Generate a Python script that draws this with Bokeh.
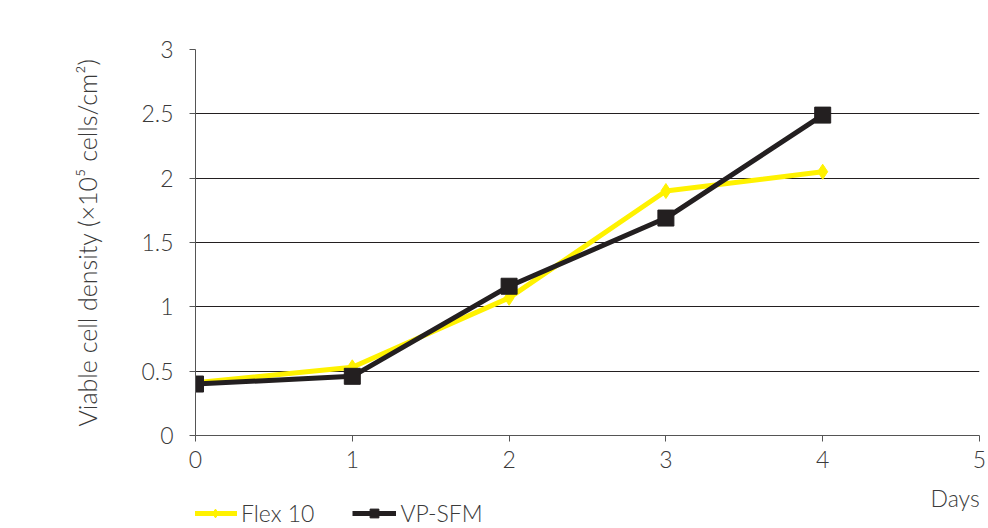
from bokeh.plotting import figure
from bokeh.layouts import column
from bokeh.models import Range1d, FixedTicker, Legend, LegendItem, Label
from bokeh.embed import file_html
from bokeh.resources import INLINE

days = [0, 1, 2, 3, 4]
flex10 = [0.41, 0.53, 1.07, 1.90, 2.05]
vpsfm = [0.40, 0.46, 1.16, 1.69, 2.49]
x_ticks = [0, 1, 2, 3, 4, 5]
y_ticks = [0, 0.5, 1, 1.5, 2, 2.5, 3]
y_tick_labels = {0: "0", 0.5: "0.5", 1: "1", 1.5: "1.5", 2: "2", 2.5: "2.5", 3: "3"}
series_names = ["Flex 10", "VP-SFM"]

FONT = "Lato Light, Lato"
TXT = "#3a3a3a"
INK = "#231f20"
YEL = "#fff200"

# main chart
p = figure(width=988, height=480, output_backend="svg", toolbar_location=None,
           x_range=Range1d(0, 5), y_range=Range1d(0, 3),
           min_border_left=195, min_border_right=9, min_border_top=49, min_border_bottom=45)
p.outline_line_color = None
p.background_fill_color = "white"
p.border_fill_color = "white"

p.xgrid.grid_line_color = None
p.ygrid.grid_line_color = INK
p.ygrid.grid_line_width = 1
p.ygrid.ticker = FixedTicker(ticks=y_ticks)

for ax in (p.xaxis[0], p.yaxis[0]):
    ax.axis_line_color = "#555555"
    ax.axis_line_width = 1
    ax.major_tick_line_color = "#555555"
    ax.major_tick_in = 0
    ax.major_tick_out = 6
    ax.minor_tick_line_color = None
    ax.major_label_text_font = FONT
    ax.major_label_text_font_size = "23px"
    ax.major_label_text_color = TXT

p.xaxis.ticker = FixedTicker(ticks=x_ticks)
p.yaxis.ticker = FixedTicker(ticks=y_ticks)
p.yaxis.major_label_overrides = y_tick_labels
p.xaxis.major_label_standoff = 9
p.yaxis.major_label_standoff = 16

p.yaxis.axis_label = "Viable cell density (×10⁵ cells/cm²)"
p.yaxis.axis_label_text_font = FONT
p.yaxis.axis_label_text_font_size = "25px"
p.yaxis.axis_label_text_font_style = "normal"
p.yaxis.axis_label_text_color = TXT
p.yaxis.axis_label_standoff = 36

p.line(days, flex10, line_color=YEL, line_width=5)
p.scatter(days, flex10, marker="diamond", size=15, fill_color=YEL, line_color=YEL)
p.line(days, vpsfm, line_color=INK, line_width=5)
p.scatter(days, vpsfm, marker="square", size=16, fill_color=INK, line_color=INK)

# strip below the chart: legend and x-axis title (its frame is aligned with the chart's)
q = figure(width=988, height=48, output_backend="svg", toolbar_location=None,
           x_axis_type=None, y_axis_type=None,
           x_range=Range1d(0, 5), y_range=Range1d(10, 11),
           min_border_left=195, min_border_right=9, min_border_top=0, min_border_bottom=0)
q.outline_line_color = None
q.xgrid.grid_line_color = None
q.ygrid.grid_line_color = None
q.border_fill_color = "white"

g1 = q.line(days, flex10, line_color=YEL, line_width=5)
d1 = q.scatter(days, flex10, marker="diamond", size=15, fill_color=YEL, line_color=YEL)
g2 = q.line(days, vpsfm, line_color=INK, line_width=5)
d2 = q.scatter(days, vpsfm, marker="square", size=16, fill_color=INK, line_color=INK)

legend = Legend(items=[LegendItem(label=series_names[0], renderers=[g1, d1]),
                       LegendItem(label=series_names[1], renderers=[g2, d2])],
                orientation="horizontal", location=(-2, 1),
                label_text_font=FONT, label_text_font_size="23px", label_text_color=TXT,
                glyph_width=44, glyph_height=22, spacing=38, padding=0, margin=0,
                label_standoff=4,
                border_line_color=None, background_fill_alpha=0)
q.add_layout(legend)

q.add_layout(Label(x=735, y=31, x_units="screen", y_units="screen", text="Days",
                   text_font=FONT, text_font_size="23px",
                   text_color=TXT, text_baseline="middle", text_align="left"))

layout = column(p, q, spacing=0)
open("out.html", "w").write(file_html(layout, INLINE))
